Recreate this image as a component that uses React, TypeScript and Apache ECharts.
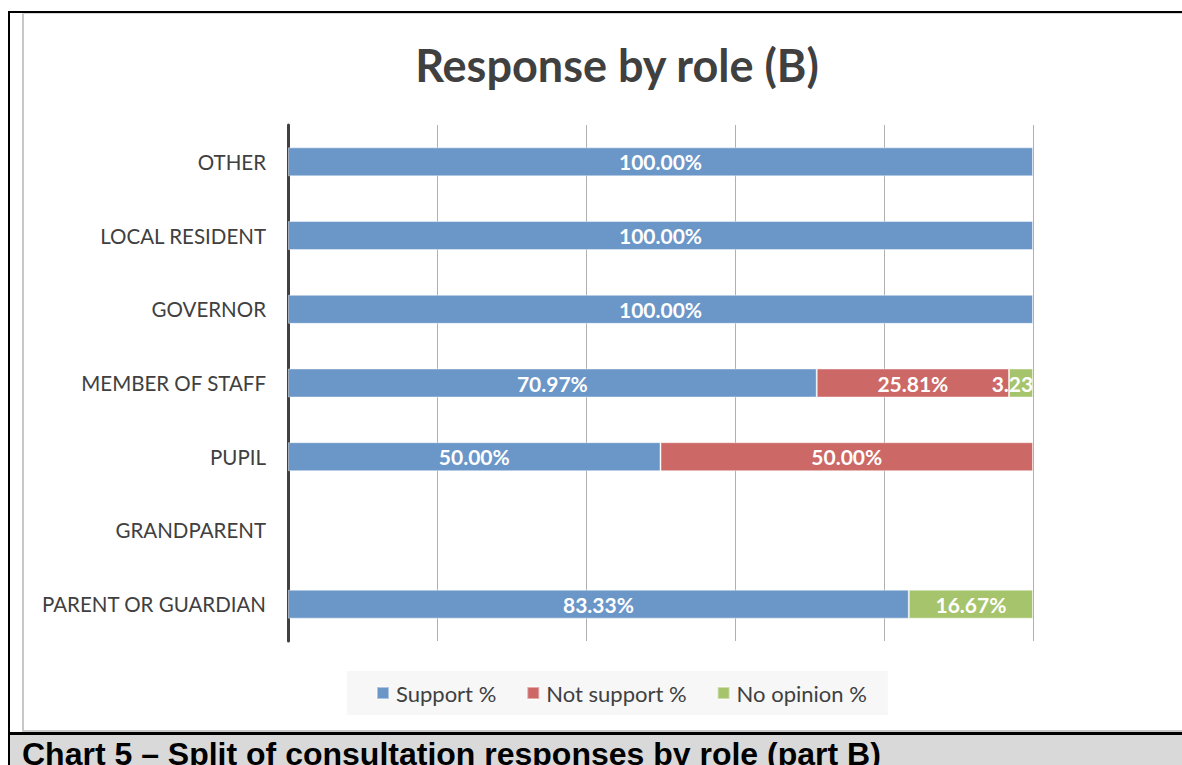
import React, { useEffect, useRef } from "react";
import * as echarts from "echarts";

const categories = [
  "PARENT OR GUARDIAN",
  "GRANDPARENT",
  "PUPIL",
  "MEMBER OF STAFF",
  "GOVERNOR",
  "LOCAL RESIDENT",
  "OTHER",
];
const supportPct = [83.33, 0, 50.0, 70.97, 100.0, 100.0, 100.0];
const notSupportPct = [0, 0, 50.0, 25.81, 0, 0, 0];
const noOpinionPct = [16.67, 0, 0, 3.23, 0, 0, 0];
const seriesNames = ["Support %", "Not support %", "No opinion %"];
const titleText = "Response by role (B)";
const captionText = "Chart 5 \u2013 Split of consultation responses by role (part B)";

const COLORS = ["#6a96c8", "#cc6865", "#a6c46c"];
const FONT = "Lato, 'Noto Sans', sans-serif";

export default function App() {
  const ref = useRef<HTMLDivElement>(null);
  useEffect(() => {
    if (!ref.current) return;
    const chart = echarts.init(ref.current, undefined, { renderer: "svg" });
    const toData = (arr: number[]) => arr.map((v) => (v > 0 ? v : "-"));
    const mk = (name: string, arr: number[], i: number) => ({
      name,
      type: "bar",
      stack: "total",
      barWidth: 29,
      data: toData(arr),
      itemStyle: {
        color: COLORS[i],
        borderColor: "rgba(255,255,255,0.45)",
        borderWidth: 1,
      },
      label: {
        show: true,
        position: "inside",
        color: "#ffffff",
        fontFamily: FONT,
        fontWeight: "bold",
        fontSize: 21,
        formatter: (p: any) => (typeof p.value === "number" ? p.value.toFixed(2) + "%" : ""),
      },
    });
    chart.setOption({
      animation: false,
      backgroundColor: "#ffffff",
      grid: { left: 288, right: 0, top: 125, bottom: 124, containLabel: false },
      xAxis: {
        type: "value",
        min: 0,
        max: 120,
        interval: 20,
        axisLabel: { show: false },
        axisLine: { show: false },
        axisTick: { show: false },
        splitLine: { show: true, lineStyle: { color: "#b0b0b0", width: 1 } },
      },
      yAxis: {
        type: "category",
        data: categories,
        axisLine: { show: true, lineStyle: { color: "#404040", width: 3 } },
        axisTick: { show: false },
        axisLabel: {
          color: "#404040",
          fontFamily: FONT,
          fontSize: 20.5,
          margin: 22,
        },
      },
      legend: {
        data: seriesNames,
        left: 347,
        top: 671,
        padding: [11, 21, 11, 29],
        backgroundColor: "#f7f7f7",
        icon: "rect",
        itemWidth: 12,
        itemHeight: 12,
        itemGap: 30,
        textStyle: { color: "#404040", fontFamily: FONT, fontSize: 22, padding: [0, 0, 0, 2] },
      },
      graphic: [
        { type: "rect", shape: { x: 10, y: 735, width: 1172, height: 30 }, style: { fill: "#d9d9d9" }, z: 10 },
        { type: "rect", shape: { x: 8, y: 11, width: 1174, height: 2 }, style: { fill: "#000000" }, z: 11 },
        { type: "rect", shape: { x: 8, y: 11, width: 2, height: 754 }, style: { fill: "#000000" }, z: 11 },
        { type: "rect", shape: { x: 8, y: 732, width: 1174, height: 3 }, style: { fill: "#000000" }, z: 11 },
        { type: "rect", shape: { x: 22, y: 13, width: 2, height: 719 }, style: { fill: "#c8c8c8" }, z: 11 },
        { type: "rect", shape: { x: 22, y: 13, width: 1160, height: 1 }, style: { fill: "#d4d4d4" }, z: 11 },
        { type: "rect", shape: { x: 22, y: 730, width: 1160, height: 2 }, style: { fill: "#c8c8c8" }, z: 11 },
        {
          type: "text",
          x: 617,
          y: 65,
          z: 12,
          style: {
            text: titleText,
            fill: "#404040",
            font: "bold 45px " + FONT,
            textAlign: "center",
            textVerticalAlign: "middle",
          },
        },
        {
          type: "text",
          x: 22,
          y: 754,
          z: 12,
          style: {
            text: captionText,
            fill: "#000000",
            font: "bold 32px 'Liberation Sans', Arial, sans-serif",
            textAlign: "left",
            textVerticalAlign: "middle",
          },
        },
      ],
      series: [
        mk(seriesNames[0], supportPct, 0),
        mk(seriesNames[1], notSupportPct, 1),
        mk(seriesNames[2], noOpinionPct, 2),
      ],
    });
    return () => chart.dispose();
  }, []);
  return (
    <div
      ref={ref}
      style={{ position: "absolute", left: 0, top: 0, width: 1182, height: 765 }}
    />
  );
}
